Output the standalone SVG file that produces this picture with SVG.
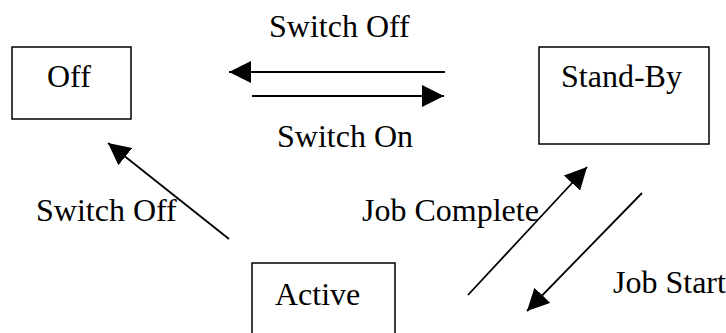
<svg xmlns="http://www.w3.org/2000/svg" width="726" height="333" viewBox="0 0 726 333">
<style>
.box{fill:#fff;stroke:#000;stroke-width:1.5}
.t{font-family:"Liberation Serif","Times New Roman",serif;font-size:32px;fill:#000}
.c{stroke:#000;stroke-width:1.8;fill:none;marker-end:url(#ah)}
</style>
<defs>
<marker id="ah" markerUnits="userSpaceOnUse" markerWidth="22" markerHeight="22" viewBox="0 0 20 20" refX="20" refY="10" orient="auto">
<path d="M0,0 L20,10 L0,20 Z" fill="#000"/>
</marker>
</defs>
<rect width="726" height="333" fill="#fff"/>
<g id="node-off">
<rect class="box" x="12" y="47" width="119" height="72"/>
<text class="t" x="47" y="87">Off</text>
</g>
<g id="node-standby">
<rect class="box" x="539" y="47" width="170" height="97"/>
<text class="t" x="561" y="87">Stand-By</text>
</g>
<g id="node-active">
<rect class="box" x="252" y="263" width="143" height="80"/>
<text class="t" x="275" y="305">Active</text>
</g>
<g id="connectors">
<line class="c" x1="445" y1="72" x2="229" y2="72"/>
<line class="c" x1="252" y1="96" x2="444" y2="96"/>
<line class="c" x1="229" y1="239" x2="108" y2="143"/>
<line class="c" x1="468" y1="295" x2="587" y2="167"/>
<line class="c" x1="642" y1="193" x2="527" y2="311"/>
</g>
<g id="labels">
<text class="t" x="269" y="37">Switch Off</text>
<text class="t" x="277" y="147">Switch On</text>
<text class="t" x="36" y="221">Switch Off</text>
<text class="t" x="362" y="221">Job Complete</text>
<text class="t" x="613" y="293">Job Start</text>
</g>
</svg>
